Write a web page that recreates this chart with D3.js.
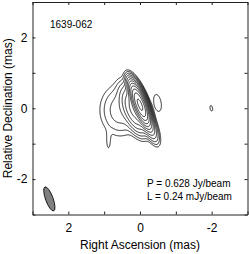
<!DOCTYPE html>
<html>
<head>
<meta charset="utf-8">
<script src="https://cdn.jsdelivr.net/npm/d3@7"></script>
<style>
  body { margin: 0; background: #fff; }
  text { font-family: "Liberation Sans", Arial, sans-serif; fill: #000; }
  .axis path, .axis line { stroke: #222; }
  .axis text { font-size: 12px; }
</style>
</head>
<body>
<div id="map"></div>
<script>
// source name and map annotation
var sourceName = "1639-062";
var peakText = "P = 0.628 Jy/beam";
var lowText = "L = 0.24 mJy/beam";

// lowest contour (mJy/beam) and the contour steps (x L)
var lowestLevel = 0.24;
var levelSteps = [1, 2, 4, 8, 16, 32, 64, 128, 256, 512, 1024, 2048];

// gaussian components (mas, mJy/beam, deg)
var compName  = ["core", "east", "south", "halo", "tail", "west island", "far island"];
var compRA    = [0.00, 0.18, -0.28, 0.55, 0.88, -0.49, -1.99];
var compDec   = [0.10, -0.05, -0.50, -0.05, -0.95, 0.15, 0.00];
var compPeak  = [600, 18, 5, 1.5, 0.30, 0.45, 0.28];
var compMaj   = [0.62, 0.75, 0.60, 0.90, 0.50, 0.50, 0.33];
var compMin   = [0.18, 0.30, 0.20, 0.70, 0.12, 0.21, 0.15];
var compPA    = [21, 21, 21, 0, 0, 10, 10];

// restoring beam
var beamRA = 2.53, beamDec = -2.56, beamMaj = 0.72, beamMin = 0.21, beamPA = 20;

// axis ticks
var raTicks = [3, 2, 1, 0, -1, -2, -3];
var decTicks = [-3, -2, -1, 0, 1, 2, 3];
var labelTicks = [-2, 0, 2];

var width = 249, height = 254;

var svg = d3.select("#map")
  .append("svg")
    .attr("width", width)
    .attr("height", height);

var x = d3.scaleLinear().domain([3, -3]).range([32.5, 247.5]);
var y = d3.scaleLinear().domain([-3, 3]).range([214.5, 2]);

// build the brightness grid
var step = 0.0125;
var nx = Math.round(6 / step) + 1, ny = nx;
var values = new Float64Array(nx * ny);
for (var j = 0; j < ny; j++) {
  var dec = 3 - j * step;
  for (var i = 0; i < nx; i++) {
    var ra = 3 - i * step;
    var v = 0;
    for (var k = 0; k < compName.length; k++) {
      var pa = compPA[k] * Math.PI / 180;
      var dr = ra - compRA[k], dd = dec - compDec[k];
      var u = dr * Math.sin(pa) + dd * Math.cos(pa);
      var w = dr * Math.cos(pa) - dd * Math.sin(pa);
      var su = compMaj[k] / 2.3548, sw = compMin[k] / 2.3548;
      v += compPeak[k] * Math.exp(-0.5 * (u * u / (su * su) + w * w / (sw * sw)));
    }
    values[i + j * nx] = v;
  }
}

var contours = d3.contours()
    .size([nx, ny])
    .thresholds(levelSteps.map(function(s) { return s * lowestLevel; }))
    (values);

var toScreen = d3.geoTransform({
  point: function(px, py) {
    this.stream.point(x(3 - (px - 0.5) * step), y(3 - (py - 0.5) * step));
  }
});

svg.append("g")
  .selectAll("path")
  .data(contours)
  .enter()
  .append("path")
    .attr("d", d3.geoPath(toScreen))
    .attr("fill", "none")
    .attr("stroke", "#000")
    .attr("stroke-width", 0.85);

// beam
svg.append("ellipse")
   .attr("cx", x(beamRA))
   .attr("cy", y(beamDec))
   .attr("rx", (x(0) - x(beamMin / 2)))
   .attr("ry", (y(0) - y(beamMaj / 2)))
   .attr("transform", "rotate(" + (-beamPA) + "," + x(beamRA) + "," + y(beamDec) + ")")
   .attr("fill", "#808080")
   .attr("stroke", "#000")
   .attr("stroke-width", 0.8);

var fmt = function(d) { return labelTicks.indexOf(d) >= 0 ? String(d) : ""; };

// axes, ticks pointing inwards
svg.append("g")
   .attr("class", "axis")
   .attr("transform", "translate(0," + y(-3) + ")")
   .call(d3.axisBottom(x).tickValues(raTicks).tickSize(-3).tickSizeOuter(0).tickPadding(9).tickFormat(fmt));
svg.append("g")
   .attr("class", "axis")
   .attr("transform", "translate(0," + y(3) + ")")
   .call(d3.axisTop(x).tickValues(raTicks).tickSize(-3).tickSizeOuter(0).tickFormat(""));
svg.append("g")
   .attr("class", "axis")
   .attr("transform", "translate(" + x(3) + ",0)")
   .call(d3.axisLeft(y).tickValues(decTicks).tickSize(-3).tickSizeOuter(0).tickPadding(5).tickFormat(fmt));
svg.append("g")
   .attr("class", "axis")
   .attr("transform", "translate(" + x(-3) + ",0)")
   .call(d3.axisRight(y).tickValues(decTicks).tickSize(-3).tickSizeOuter(0).tickFormat(""));

// axis titles
svg.append("text")
   .attr("x", x(0))
   .attr("y", 249)
   .attr("text-anchor", "middle")
   .attr("font-size", "12px")
   .text("Right Ascension (mas)");
svg.append("text")
   .attr("transform", "translate(12," + y(0) + ") rotate(-90)")
   .attr("text-anchor", "middle")
   .attr("font-size", "12px")
   .text("Relative Declination (mas)");

// labels inside the map
svg.append("text")
   .attr("x", 50)
   .attr("y", 28)
   .attr("font-size", "10px")
   .text(sourceName);
svg.append("text")
   .attr("x", 147)
   .attr("y", 187)
   .attr("font-size", "10px")
   .text(peakText);
svg.append("text")
   .attr("x", 147)
   .attr("y", 200)
   .attr("font-size", "10px")
   .text(lowText);
</script>
</body>
</html>
